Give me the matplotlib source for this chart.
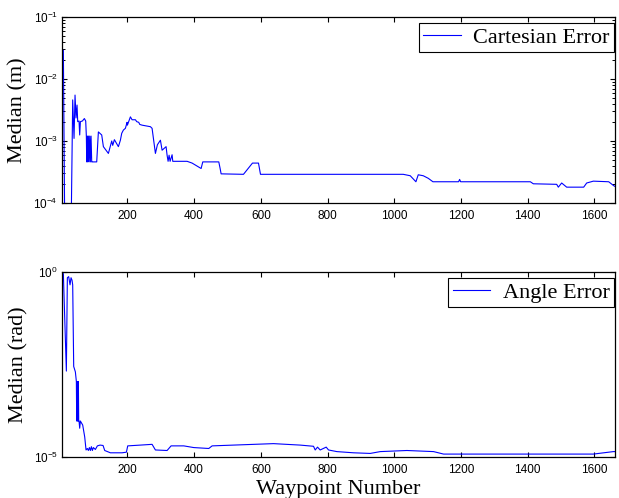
"""
Median waypoint errors (cartesian and angle) on log axes, two stacked panels.
Writes out.png.
"""

import matplotlib
matplotlib.use("Agg")
import matplotlib.pyplot as plt
from matplotlib.ticker import NullLocator, NullFormatter

plt.rcParams.update({
    "font.family": "Liberation Sans",
    "font.size": 8.5,
    "axes.linewidth": 0.9,
    "xtick.direction": "in", "ytick.direction": "in",
    "xtick.top": True, "ytick.right": True,
    "xtick.major.size": 3.5, "ytick.major.size": 3.5,
    "xtick.minor.size": 2.5, "ytick.minor.size": 2.5,
    "ytick.minor.width": 0.7,
    "xtick.major.pad": 5, "ytick.major.pad": 3,
})

SERIF = "Liberation Serif"
BLUE = "#0000ff"

# Cartesian error (m) (breakpoints of the trace)
cart_wp = [8, 13, 30, 36, 40, 43, 46, 49, 51, 55, 57, 59, 65, 71, 75,
           77, 78, 80, 81, 83, 85, 87, 89, 91, 93, 94, 108, 113, 123, 128,
           143, 153, 156, 161, 173, 179, 183, 188, 194, 199, 200, 209, 214,
           224, 228, 234, 237, 244, 269, 274, 284, 290, 299, 304, 316, 319,
           322, 325, 328, 334, 336, 379, 394, 421, 426, 474, 478, 481, 548,
           575, 593, 599, 1027, 1048, 1065, 1072, 1087, 1102, 1116, 1193,
           1196, 1199, 1408, 1417, 1487, 1492, 1502, 1517, 1568, 1577, 1597,
           1643, 1658, 1662]
cart_err = [2.9e-2, 1e-5, 1e-5, 4.6e-3, 1.1e-3, 5.5e-3, 2.35e-3, 3.8e-3,
            2.05e-3, 2.1e-3, 1.25e-3, 2.05e-3, 2.1e-3, 2.3e-3, 2.1e-3,
            1.17e-3, 4.6e-4, 1.2e-3, 4.6e-4, 1.2e-3, 4.6e-4, 1.2e-3, 4.6e-4,
            1.2e-3, 4.6e-4, 4.6e-4, 4.6e-4, 1.4e-3, 1.25e-3, 8.1e-4,
            6.3e-4, 1e-3, 8.5e-4, 1.05e-3, 8.1e-4, 1.03e-3, 1.33e-3, 1.5e-3,
            1.6e-3, 2e-3, 1.8e-3, 2.45e-3, 2.2e-3, 2.2e-3, 2.05e-3, 2e-3,
            1.85e-3, 1.8e-3, 1.7e-3, 1.6e-3, 6.3e-4, 8.7e-4, 1.03e-3, 7.1e-4,
            8.1e-4, 5.9e-4, 4.7e-4, 5.9e-4, 4.7e-4, 6e-4, 4.7e-4, 4.7e-4,
            4.4e-4, 3.6e-4, 4.6e-4, 4.6e-4, 3.6e-4, 2.95e-4, 2.9e-4, 4.4e-4,
            4.4e-4, 2.9e-4, 2.9e-4, 2.75e-4, 2.2e-4, 2.85e-4, 2.75e-4,
            2.5e-4, 2.2e-4, 2.2e-4, 2.4e-4, 2.2e-4, 2.2e-4, 2.04e-4, 2e-4,
            1.8e-4, 2.1e-4, 1.8e-4, 1.8e-4, 2.1e-4, 2.25e-4, 2.2e-4, 1.9e-4,
            1.85e-4]

# Angle error (rad)
ang_wp = [8, 17, 20, 24, 28, 31, 34, 36, 39, 44, 47, 48, 49, 50, 51, 52,
          53, 54, 55, 57, 59, 66, 72, 76, 80, 83, 86, 89, 92, 95, 98, 104,
          110, 118, 127, 132, 149, 184, 197, 201, 239, 274, 284, 319, 331,
          369, 399, 444, 454, 638, 718, 758, 763, 770, 778, 796, 803, 828,
          878, 928, 958, 1038, 1118, 1148, 1417, 1597, 1657, 1662]
ang_err = [0.9, 2.1e-3, 0.7, 0.75, 0.45, 0.7, 0.6, 0.45, 2.8e-3, 2e-3,
           1.1e-3, 9.4e-5, 1.1e-3, 9.4e-5, 1.1e-3, 9.4e-5, 1.1e-3, 9.4e-5,
           9.4e-5, 6e-5, 9.4e-5, 7.3e-5, 3.5e-5, 1.55e-5, 1.7e-5, 1.5e-5,
           1.8e-5, 1.5e-5, 1.9e-5, 1.5e-5, 1.8e-5, 1.6e-5, 2e-5, 2.1e-5,
           2.05e-5, 1.5e-5, 1.3e-5, 1.3e-5, 1.35e-5, 2e-5, 2.1e-5, 2.2e-5,
           1.55e-5, 1.5e-5, 2e-5, 2e-5, 1.8e-5, 1.7e-5, 2e-5, 2.3e-5, 2.1e-5,
           1.95e-5, 1.55e-5, 1.85e-5, 1.55e-5, 1.85e-5, 1.55e-5, 1.4e-5,
           1.3e-5, 1.25e-5, 1.4e-5, 1.5e-5, 1.4e-5, 1.2e-5, 1.2e-5, 1.2e-5,
           1.4e-5, 1.4e-5]

XTICKS = [200, 400, 600, 800, 1000, 1200, 1400, 1600]
XLIM = (4, 1662)
CART_YTICKS = [1e-4, 1e-3, 1e-2, 1e-1]
CART_MINOR = [k * d for d in (1e-4, 1e-3, 1e-2) for k in range(2, 10)]

fig = plt.figure(figsize=(6.19, 4.98), dpi=100)
ax1 = fig.add_axes([0.1002, 0.5924, 0.8934, 0.3735])
ax2 = fig.add_axes([0.1002, 0.0823, 0.8934, 0.3715])

ax1.semilogy(cart_wp, cart_err, color=BLUE, lw=0.8, label="Cartesian Error")
ax1.set_ylim(1e-4, 1e-1)
ax1.set_yticks(CART_YTICKS)
ax1.set_yticks(CART_MINOR, minor=True)
ax1.yaxis.set_minor_formatter(NullFormatter())
ax1.set_ylabel("Median (m)", family=SERIF, fontsize=16, labelpad=4)

ax2.semilogy(ang_wp, ang_err, color=BLUE, lw=0.8, label="Angle Error")
ax2.set_ylim(1e-5, 1e0)
ax2.set_yticks([1e-5, 1e0])
ax2.yaxis.set_minor_locator(NullLocator())
ax2.set_ylabel("Median (rad)", family=SERIF, fontsize=16, labelpad=4)
ax2.set_xlabel("Waypoint Number", family=SERIF, fontsize=16, labelpad=3)

for ax in (ax1, ax2):
    ax.set_xlim(*XLIM)
    ax.set_xticks(XTICKS)
    ax.xaxis.set_minor_locator(NullLocator())
    leg = ax.legend(loc="upper right", bbox_to_anchor=(0.998, 0.968),
                    borderaxespad=0, fancybox=False, edgecolor="black",
                    framealpha=1, prop={"family": SERIF, "size": 16},
                    handlelength=1.7, handletextpad=0.55, borderpad=0.2)
    leg.get_frame().set_linewidth(0.8)

fig.savefig("out.png", dpi=100)
